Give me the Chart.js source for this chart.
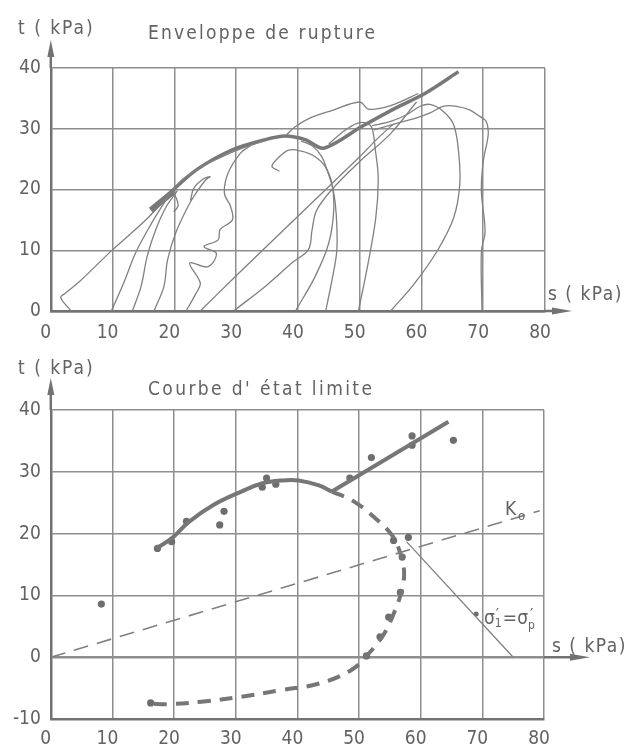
<!DOCTYPE html>
<html lang="fr">
<head>
<meta charset="UTF-8">
<title>Enveloppe de rupture - Courbe d'état limite</title>
<style>
  html, body { margin: 0; padding: 0; background: #fff; }
  .box { position: absolute; left: 0; width: 634px; }
  #top { top: 0; height: 345px; }
  #bottom { top: 345px; height: 407px; }
</style>
</head>
<body>
<div class="box" id="top"><canvas id="envChart" width="634" height="345"></canvas></div>
<div class="box" id="bottom"><canvas id="limChart" width="634" height="407"></canvas></div>
<script src="https://cdn.jsdelivr.net/npm/chart.js"></script>
<script>
// ---- data, [s, t] in kPa ----

// top : stress paths
var path1 = [[3.3,0],[1.6,2.2],[2.3,2.9],[4.6,4.8],[9.8,9.9],[15.7,15.3],[19.6,19.7],[21.5,21.8],[24.5,23.8],[27.5,25.3],[31,26.8],[34.5,28]];
var path2 = [[9.8,0],[11.8,4.6],[13.7,9.5],[16,13.9],[18.3,17.7],[19.6,19.6],[20.3,18.6],[20.6,17.3],[19.9,16.3]];
var path3 = [[13.2,0],[14.6,4],[15.6,9],[17,13.4],[18.7,17.2],[20.5,19.8]];
var path4 = [[16.7,0],[18.3,4],[18.9,8.4],[20.2,12.8],[22.2,17.2],[23.5,19.4],[25.1,21.6],[25.8,22.1],[24.8,21.8],[23.2,20.3],[22.6,18.2]];
var path5 = [[21.9,0],[23.5,2.9],[24.2,4.6],[22.5,7.9],[25.5,7.3],[26.8,9.5],[24.8,10.6],[27.1,11.7],[27.4,13.4],[29.4,15],[29.1,17.2],[28.1,19.4],[28.7,22.7],[30.7,26],[32.3,27.2]];
var path6 = [[24.2,0],[30,5.8],[40,15.6],[50,25.4],[53,28.5],[55.5,30.8]];
var path7 = [[29.6,0],[35,4.3],[39,7.9],[41.7,10.1],[42.3,13.4],[43,16.5],[45.5,20],[50,24.6],[55,29.2],[59.2,34.4]];
var path8 = [[39.6,0],[42.8,5.7],[45,11.2],[45.8,16.6],[45.5,21],[44.4,23.8],[42.8,25.4],[40.6,26.3],[38.5,26.5],[36.8,25.2],[35.8,23.8],[37,23]];
var path9 = [[44.5,0],[45.5,5],[46.3,10],[46.2,16],[45.7,20],[44.8,23],[43.8,25.5],[42.3,27.2],[40.5,28]];
var path10 = [[49.8,0],[51.2,7],[52.6,15.3],[53,21.9],[52.5,26.8],[52,30.1],[51.2,30.9],[49.6,30.9],[47.4,29.6],[45,27.5]];
var path11 = [[55,0],[58.7,4.3],[62.5,9.8],[65.2,15.3],[66.2,20.8],[66,26.3],[65.2,30.7],[63.5,32.9],[61.4,34],[59.8,33.7],[57.6,32.3],[55,31.2],[52,30.5]];
var path12 = [[69.8,0],[69.7,9.8],[70.3,13.1],[69.7,19.7],[70,24.6],[70.8,29],[70.5,31.2],[69.5,32],[67.8,33.1],[65.7,33.7],[63.5,33.7],[61.4,32.6],[59.2,31.8],[56,30.9],[52.3,29.8]];
var path13 = [[38,28.8],[39.5,30.3],[42,31.8],[45.5,33],[50,34.4],[51.5,33.2],[55,33.8],[59.5,35.8]];
var envelope = [[16.2,16.6],[18.5,18.6],[20.5,20.6],[23.8,23.4],[29.3,26.5],[34.7,28.2],[37.9,28.8],[41.2,28.2],[44.2,26.8],[50.4,30.4],[55.8,33.4],[60.7,35.9],[66,39.4]];
var envelopeStart = [[16.2,16.6],[20,19.8]];

// bottom : limit state curve
var limCurve = [[17.1,17.6],[19.7,19.3],[22.4,21.9],[26.3,24.6],[30.9,26.8],[34.2,28.1],[37.5,28.6],[40.2,28.6],[43.5,27.8],[45.6,26.8]];
var limLine = [[45.6,26.8],[64.5,38.1]];
var limDashed = [[45.6,26.8],[49,25.3],[52.5,22.6],[55.3,19.8],[56.6,17.1],[57.3,13.9],[56.9,10.7],[55.6,7],[54,3.7],[51.3,0.3],[48.7,-2.1],[43.4,-4.3],[37.5,-5.3],[30.9,-6.4],[24.4,-7.2],[19.1,-7.6],[16.1,-7.5]];
var limPoints = [[8.2,8.6],[17.3,17.6],[19.6,18.7],[22,22],[27.4,21.4],[28.1,23.6],[34.3,27.5],[35,29],[36.5,28],[48.5,29],[52,32.3],[58.6,34.3],[58.6,35.8],[65.3,35.1],[58,19.4],[55.6,18.9],[57,16.2],[56.7,10.5],[54.8,6.5],[53.4,3.3],[51.2,0.2],[16.2,-7.4]];
var koLine = [[0,0],[79.3,23.7]];
var sigmaLine = [[57.7,18.7],[75,0]];
var sigmaPoint = [[69,7]];

var sTicks = [0, 80, 10];
var tTicksTop = [0, 40, 10];
var tTicksBottom = [-10, 40, 10];

// ---- style ----
var ink = '#808080';
var textInk = '#626262';
var gridInk = '#8e8e8e';
var font = '"DejaVu Sans Condensed", "Liberation Sans Narrow", "DejaVu Sans", sans-serif';

function pts(arr) {
    return arr.map(function (p) { return { x: p[0], y: p[1] }; });
}

function thin(arr) {
    return { data: pts(arr), showLine: true, borderColor: ink, borderWidth: 1.3, pointRadius: 0, tension: 0.35, fill: false };
}

// arrows, axis names, titles
var extras = {
    id: 'extras',
    afterDraw: function (chart, args, opts) {
        var ctx = chart.ctx, xs = chart.scales.x, ys = chart.scales.y, a = chart.chartArea;
        var x0 = xs.getPixelForValue(0), y0 = ys.getPixelForValue(0);
        ctx.save();
        ctx.strokeStyle = '#727272';
        ctx.fillStyle = '#727272';
        ctx.lineWidth = 2.5;
        ctx.beginPath();
        ctx.moveTo(x0, a.top);
        ctx.lineTo(x0, opts.yTip + 12);
        ctx.moveTo(a.right, y0);
        ctx.lineTo(opts.xTip - 12, y0);
        ctx.stroke();
        ctx.beginPath();
        ctx.moveTo(x0, opts.yTip);
        ctx.lineTo(x0 - 3.5, opts.yTip + 17);
        ctx.lineTo(x0 + 3.5, opts.yTip + 17);
        ctx.closePath();
        ctx.moveTo(opts.xTip, y0);
        ctx.lineTo(opts.xTip - 20, y0 - 3.5);
        ctx.lineTo(opts.xTip - 20, y0 + 3.5);
        ctx.closePath();
        ctx.fill();

        ctx.fillStyle = textInk;
        ctx.textBaseline = 'alphabetic';
        opts.texts.forEach(function (t) {
            ctx.font = (t.size || 19) + 'px ' + font;
            ctx.letterSpacing = (t.sp || 0) + 'px';
            ctx.fillText(t.s, t.x, t.y);
        });
        ctx.letterSpacing = '0px';
        if (opts.extra) opts.extra(ctx);
        ctx.restore();
    }
};

var chartBottomPad = { envChart: 34, limChart: 33 };

function scales(tt, xPad) {
    return {
        x: {
            type: 'linear', min: sTicks[0], max: sTicks[1],
            ticks: { stepSize: sTicks[2], color: textInk, font: { family: font, size: 19 }, padding: xPad, labelOffset: -5, maxRotation: 0 },
            grid: { color: gridInk, lineWidth: 1.5, drawTicks: false },
            border: { color: '#727272', width: 2.5 },
            afterFit: function (s) { s.height = chartBottomPad[s.chart.canvas.id]; }
        },
        y: {
            type: 'linear', min: tt[0], max: tt[1],
            ticks: { stepSize: tt[2], color: textInk, font: { family: font, size: 19 }, padding: 10 },
            grid: {
                color: gridInk, drawTicks: false,
                lineWidth: function (c) { return c.tick && c.tick.value === 0 ? 2.5 : 1.5; }
            },
            border: { color: '#727272', width: 2.5 },
            afterFit: function (s) { s.width = 50.8; }
        }
    };
}

new Chart(document.getElementById('envChart'), {
    type: 'scatter',
    data: {
        datasets: [path1, path2, path3, path4, path5, path6, path7, path8, path9, path10, path11, path12, path13].map(thin).concat([
            { data: pts(envelope), showLine: true, borderColor: '#787878', borderWidth: 3.5, pointRadius: 0, tension: 0.3 },
            { data: pts(envelopeStart), showLine: true, borderColor: '#787878', borderWidth: 6, pointRadius: 0 }
        ])
    },
    options: {
        responsive: false,
        animation: false,
        layout: { padding: { top: 68, right: 89, left: 0, bottom: 0 } },
        scales: scales(tTicksTop, 11),
        plugins: {
            legend: { display: false },
            tooltip: { enabled: false },
            extras: {
                yTip: 40, xTip: 572,
                texts: [
                    { s: 't ( kPa)', x: 18, y: 34, sp: 2 },
                    { s: 'Enveloppe de rupture', x: 148, y: 39, sp: 2.2 },
                    { s: 's ( kPa)', x: 548, y: 300, sp: 1.5 }
                ]
            }
        }
    },
    plugins: [extras]
});

new Chart(document.getElementById('limChart'), {
    type: 'scatter',
    data: {
        datasets: [
            { data: pts(koLine), showLine: true, borderColor: ink, borderWidth: 1.6, borderDash: [15, 9], pointRadius: 0 },
            { data: pts(sigmaLine), showLine: true, borderColor: ink, borderWidth: 1.3, pointRadius: 0 },
            { data: pts(limCurve), showLine: true, borderColor: '#767676', borderWidth: 4, pointRadius: 0, tension: 0.4 },
            { data: pts(limLine), showLine: true, borderColor: '#767676', borderWidth: 4, pointRadius: 0 },
            { data: pts(limDashed), showLine: true, borderColor: '#767676', borderWidth: 4, borderDash: [13, 9], pointRadius: 0, tension: 0.4 },
            { data: pts(limPoints), showLine: false, pointRadius: 3.6, pointBackgroundColor: '#6e6e6e', pointBorderWidth: 0 },
            { data: pts(sigmaPoint), showLine: false, pointRadius: 2.5, pointBackgroundColor: '#6e6e6e', pointBorderWidth: 0 }
        ]
    },
    options: {
        responsive: false,
        animation: false,
        layout: { padding: { top: 65, right: 90, left: 0, bottom: 0 } },
        scales: scales(tTicksBottom, 9),
        plugins: {
            legend: { display: false },
            tooltip: { enabled: false },
            extras: {
                yTip: 33, xTip: 590,
                texts: [
                    { s: 't ( kPa)', x: 18, y: 29, sp: 2 },
                    { s: "Courbe d' état limite", x: 148, y: 50, sp: 2.4 },
                    { s: 's ( kPa)', x: 552, y: 307, sp: 1.5 },
                    { s: 'K', x: 505, y: 170, size: 19 }
                ],
                extra: function (ctx) {
                    // K0 subscript and the sigma label
                    ctx.font = '13px ' + font;
                    ctx.fillText('o', 518, 175);
                    ctx.font = '19px ' + font;
                    var x = 484, y = 279;
                    ctx.fillText('σ', x, y); x += ctx.measureText('σ').width;
                    ctx.font = '12px ' + font;
                    ctx.fillText('1', x, y + 3);
                    ctx.font = '16px ' + font;
                    ctx.fillText('\u2032', x + 1, y - 4); x += 8;
                    ctx.font = '19px ' + font;
                    ctx.fillText('=', x, y); x += ctx.measureText('=').width;
                    ctx.fillText('σ', x, y); x += ctx.measureText('σ').width;
                    ctx.font = '12px ' + font;
                    ctx.fillText('p', x, y + 5);
                    ctx.font = '16px ' + font;
                    ctx.fillText('\u2032', x + 2, y - 4);
                }
            }
        }
    },
    plugins: [extras]
});
</script>
</body>
</html>
